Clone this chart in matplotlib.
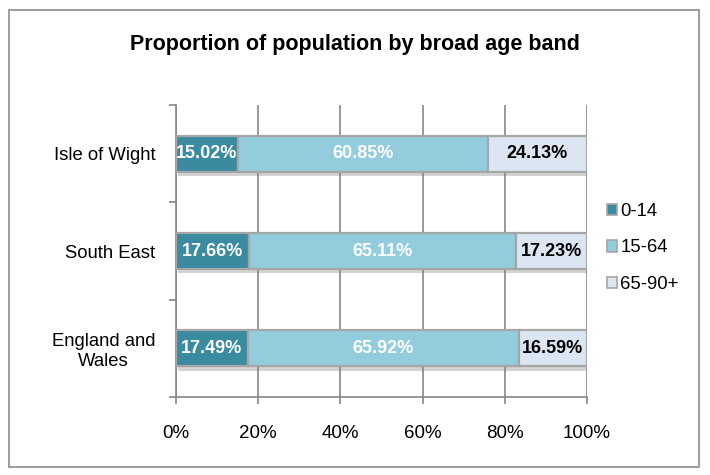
import matplotlib
matplotlib.use("Agg")
import matplotlib.pyplot as plt
import matplotlib.patheffects as pe
from matplotlib.patches import Patch, Rectangle
import numpy as np

plt.rcParams["font.family"] = ["Liberation Sans", "DejaVu Sans"]

# data (bottom to top, as drawn)
areas = ["England and\nWales", "South East", "Isle of Wight"]
bands = ["0-14", "15-64", "65-90+"]
age_0_14 = [17.49, 17.66, 15.02]
age_15_64 = [65.92, 65.11, 60.85]
age_65_plus = [16.59, 17.23, 24.13]

colors = ["#3A8AA0", "#93CDDD", "#DCE6F2"]
text_colors = ["white", "white", "black"]
edge = "#A6A6A6"
grid_col = "#868686"

fig = plt.figure(figsize=(7.1, 4.75), dpi=100)
ax = fig.add_axes([0.2479, 0.1642, 0.5789, 0.6147])

# outer chart border
fig.patches.append(Rectangle((0.013, 0.017), 0.972, 0.963, transform=fig.transFigure,
                             fill=False, edgecolor="#8C8C8C", linewidth=1.2))

y = np.arange(len(areas))
left = np.zeros(len(areas))
shadow = [pe.SimplePatchShadow(offset=(1.5, -3), shadow_rgbFace="#7F7F7F", alpha=0.35), pe.Normal()]
for vals, col, tcol in zip([age_0_14, age_15_64, age_65_plus], colors, text_colors):
    bars = ax.barh(y, vals, left=left, height=0.37, color=col, edgecolor=edge,
                   linewidth=1.6, zorder=3)
    for b in bars:
        b.set_path_effects(shadow)
    for yi, l, v in zip(y, left, vals):
        ax.text(l + v / 2, yi, f"{v:.2f}%", ha="center", va="center", color=tcol,
                fontsize=13, fontweight="bold", zorder=4)
    left = left + np.array(vals)

ax.set_xlim(0, 100)
ax.set_ylim(-0.5, 2.5)
ax.set_xticks(np.arange(0, 101, 20))
ax.set_xticklabels([f"{t}%" for t in range(0, 101, 20)], fontsize=13.5)
ax.set_yticks([-0.5, 0.5, 1.5, 2.5])
ax.set_yticklabels([])
ax.set_yticks(y, minor=True)
ax.set_yticklabels(areas, minor=True, fontsize=13.3)
for lab in ax.get_yticklabels(minor=True):
    lab.set_multialignment("center")
ax.tick_params(axis="y", which="minor", length=0, pad=15)
ax.tick_params(axis="y", which="major", length=5, color=grid_col, width=1.2)
ax.tick_params(axis="x", length=5, color=grid_col, width=1.2, pad=15)

ax.grid(axis="x", color=grid_col, linewidth=1.2, zorder=0)
ax.set_axisbelow(True)
for s in ["top", "right"]:
    ax.spines[s].set_visible(False)
for s in ["left", "bottom"]:
    ax.spines[s].set_color(grid_col)
    ax.spines[s].set_linewidth(1.2)

fig.text(0.5, 0.907, "Proportion of population by broad age band", ha="center",
         va="center", fontsize=15.5, fontweight="bold")

handles = [Patch(facecolor=c, edgecolor=edge, linewidth=1.2) for c in colors]
fig.legend(handles, bands, loc="upper left", bbox_to_anchor=(0.845, 0.588),
           frameon=False, fontsize=13.3, handlelength=0.55, handleheight=0.55,
           handletextpad=0.15, labelspacing=1.05, borderaxespad=0)

fig.savefig("out.png", dpi=100)
